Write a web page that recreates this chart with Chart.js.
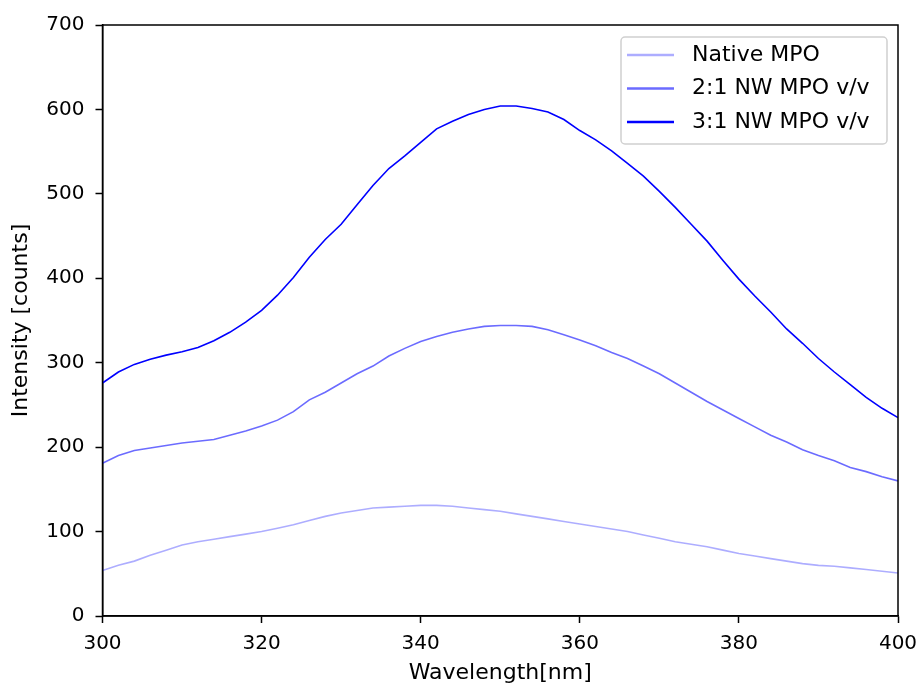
<!DOCTYPE html>
<html>
<head>
<meta charset="utf-8">
<script src="https://cdn.jsdelivr.net/npm/chart.js@4.4.1/dist/chart.umd.min.js"></script>
<style>
  body { margin: 0; background: #fff; }
  #wrap { width: 921px; height: 684px; }
</style>
</head>
<body>
<div id="wrap"><canvas id="myChart" width="921" height="684"></canvas></div>
<script>
// wavelength grid (nm)
const WAVELENGTH = [300,302,304,306,308,310,312,314,316,318,320,322,324,326,328,330,332,334,336,338,340,
  342,344,346,348,350,352,354,356,358,360,362,364,366,368,370,372,374,376,378,380,
  382,384,386,388,390,392,394,396,398,400];

const NATIVE_MPO = [54,60,65,72,78,84,88,91,94,97,100,104,108,113,118,122,125,128,129,130,131,
  131,130,128,126,124,121,118,115,112,109,106,103,100,96,92,88,85,82,78,74,
  71,68,65,62,60,59,57,55,53,51];

const NW_2_1 = [181,190,196,199,202,205,207,209,214,219,225,232,242,256,265,276,287,296,308,317,325,
  331,336,340,343,344,344,343,339,333,327,320,312,305,296,287,276,265,254,244,234,
  224,214,206,197,190,184,176,171,165,160];

const NW_3_1 = [276,289,298,304,309,313,318,326,336,348,362,380,401,425,446,464,487,510,530,545,561,
  577,586,594,600,604,604,601,597,588,575,564,551,536,521,503,484,464,444,421,399,
  379,360,340,323,305,289,274,259,246,235];

const X_TICKS = [300,320,340,360,380,400];
const Y_TICKS = [0,100,200,300,400,500,600,700];

const LABELS = ["Native MPO","2:1 NW MPO v/v","3:1 NW MPO v/v"];
const COLORS = ["rgba(0,0,255,0.32)","rgba(0,0,255,0.58)","rgba(0,0,255,1)"];

Chart.defaults.font.family = "'DejaVu Sans', sans-serif";
Chart.defaults.font.size = 20;
Chart.defaults.color = "#000";

const MY_CHART = document.querySelector("#myChart");

const toPoints = (ys) => ys.map((y, i) => ({ x: WAVELENGTH[i], y: y }));

const data = {
  datasets: [NATIVE_MPO, NW_2_1, NW_3_1].map((ys, i) => ({
    label: LABELS[i],
    data: toPoints(ys),
    borderColor: COLORS[i],
    borderWidth: 1.6,
    pointRadius: 0,
    tension: 0,
    fill: false
  }))
};

// frame around the plot area + matplotlib style legend box
const framePlugin = {
  id: "frame",
  afterDatasetsDraw(chart) {
    const { ctx, chartArea: a } = chart;
    ctx.save();
    ctx.strokeStyle = "#000";
    ctx.lineWidth = 1.5;
    ctx.strokeRect(a.left, a.top, a.right - a.left, a.bottom - a.top);

    // legend
    const bx = 621, by = 37, bw = 266, bh = 107, r = 4;
    ctx.beginPath();
    ctx.roundRect(bx, by, bw, bh, r);
    ctx.fillStyle = "rgba(255,255,255,0.8)";
    ctx.fill();
    ctx.strokeStyle = "#d0d0d0";
    ctx.lineWidth = 1.5;
    ctx.stroke();
    ctx.font = "22px 'DejaVu Sans'";
    ctx.textBaseline = "middle";
    ctx.textAlign = "left";
    chart.data.datasets.forEach((ds, i) => {
      const y = 55 + i * 33.5;
      ctx.beginPath();
      ctx.moveTo(627, y);
      ctx.lineTo(674, y);
      ctx.strokeStyle = ds.borderColor;
      ctx.lineWidth = 2.5;
      ctx.stroke();
      ctx.fillStyle = "#000";
      ctx.fillText(ds.label, 692, y);
    });
    ctx.restore();
  }
};

const CONFIG = {
  type: "line",
  data: data,
  options: {
    responsive: false,
    animation: false,
    devicePixelRatio: 1,
    layout: { padding: { top: 25, right: 23, left: 0, bottom: 0 } },
    plugins: { legend: { display: false }, tooltip: { enabled: false } },
    scales: {
      x: {
        type: "linear",
        min: 300,
        max: 400,
        afterBuildTicks: (s) => { s.ticks = X_TICKS.map(v => ({ value: v })); },
        afterFit: (s) => { s.height = 68; s.paddingLeft = 0; s.paddingRight = 0; },
        ticks: { padding: 9, maxRotation: 0, color: "#000", font: { size: 20 } },
        grid: { drawOnChartArea: false, drawTicks: true, tickLength: 7, tickWidth: 1.5, color: "#000" },
        border: { display: true, color: "#000", width: 1.5 },
        title: { display: true, text: "Wavelength[nm]", color: "#000",
          font: { size: 22, lineHeight: 1 }, padding: { top: 0, bottom: 0 } }
      },
      y: {
        min: 0,
        max: 700,
        afterBuildTicks: (s) => { s.ticks = Y_TICKS.map(v => ({ value: v })); },
        afterFit: (s) => { s.width = 102.5; s.paddingTop = 0; s.paddingBottom = 0; },
        ticks: { padding: 11, color: "#000", font: { size: 20 } },
        grid: { drawOnChartArea: false, drawTicks: true, tickLength: 7, tickWidth: 1.5, color: "#000" },
        border: { display: true, color: "#000", width: 1.5 },
        title: { display: true, text: "Intensity [counts]", color: "#000",
          font: { size: 22, lineHeight: 1 }, padding: { top: 10, bottom: 0 } }
      }
    }
  },
  plugins: [framePlugin]
};

new Chart(MY_CHART, CONFIG);
</script>
</body>
</html>
